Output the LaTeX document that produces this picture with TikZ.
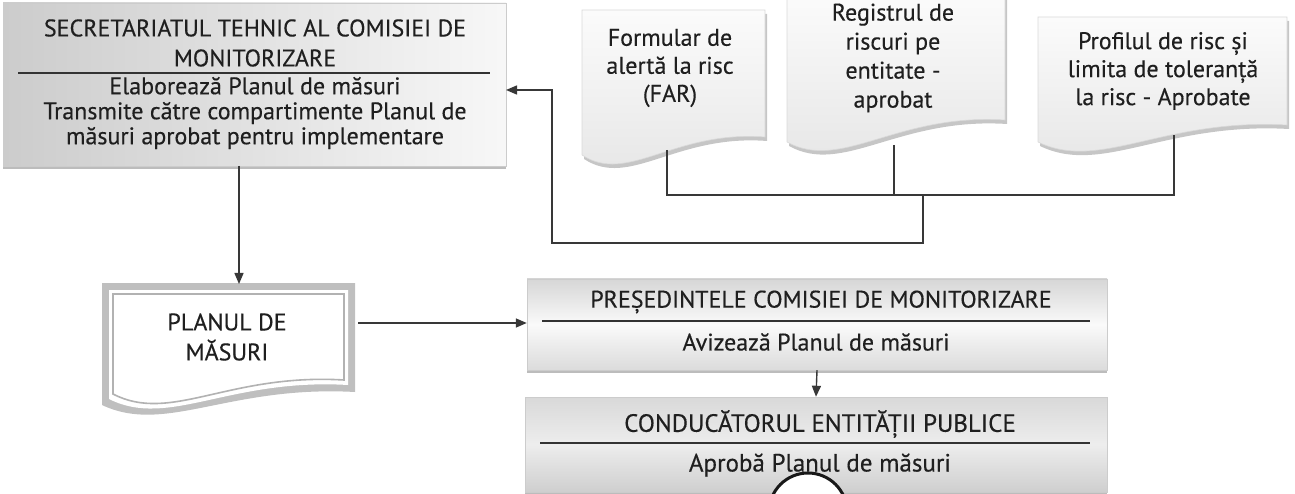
\documentclass[tikz,border=0pt]{standalone}
\usepackage{fontspec}
\setmainfont{PT Sans}[BoldFont=PT Sans, BoldFeatures={FakeBold=0.35}]
\usetikzlibrary{arrows.meta,shadows}
\newcommand\mydocpath[5]{(#1,#3) -- (#2,#3) -- (#2,#5) .. controls ({#1+0.5*(#2-#1)},{#5-7}) and ({#1+0.25*(#2-#1)},{#4+30}) .. (#1,#4) -- cycle}
\begin{document}
\begin{tikzpicture}[x=1pt,y=-1pt,
  conn/.style={draw=black!78, line width=1.4pt},
  arr/.style={conn, -{Triangle[length=11pt,width=9pt]}},
  txt/.style={font=\fontsize{24}{28}\selectfont\bfseries, align=center, text=black!88, inner sep=0pt},
  divider/.style={draw=black!80, line width=1.3pt},
  boxshadow/.style={drop shadow={opacity=0.75, shadow xshift=0pt, shadow yshift=-3pt, fill=gray!70}},
  docfill/.style={top color=gray!3, bottom color=gray!20, draw=gray!30, line width=0.6pt},
  docshadow/.style={fill=gray!45, shift={(2,4)}}
]
\useasboundingbox (0,0) rectangle (1295,494);

% ---- boxes ----
\node[boxshadow, left color=gray!40, right color=gray!6, draw=gray!40, minimum width=503pt, minimum height=163pt, inner sep=0pt] (secbox) at (254.5,84.5) {};
\node[boxshadow, top color=gray!32, bottom color=gray!28, middle color=gray!4, draw=gray!40, minimum width=580pt, minimum height=91pt, inner sep=0pt] (pres) at (817,324.5) {};
\node[boxshadow, top color=gray!30, bottom color=gray!38, middle color=gray!14, draw=gray!40, minimum width=582pt, minimum height=95pt, inner sep=0pt] (cond) at (816,444.5) {};

% ---- document shapes ----
\fill[docshadow] \mydocpath{582}{765}{10}{155}{137};
\path[docfill] \mydocpath{582}{765}{10}{155}{137};
\fill[docshadow] \mydocpath{787}{1005}{-6}{142}{120};
\path[docfill] \mydocpath{787}{1005}{-6}{142}{120};
\fill[docshadow] \mydocpath{1038}{1287}{17}{142}{125};
\path[docfill] \mydocpath{1038}{1287}{17}{142}{125};

% ---- plan document ----
\fill[gray!50] \mydocpath{102}{355}{283}{405}{392};
\fill[white] \mydocpath{109}{348}{290}{399}{385};
\path[draw=gray!60, line width=1.6pt, fill=white] \mydocpath{113}{344}{294}{394}{380};

% ---- texts ----
\node[txt, font=\fontsize{24}{30}\selectfont\bfseries] (sectitle) at (255,43) {SECRETARIATUL TEHNIC AL COMISIEI DE\\MONITORIZARE};
\draw[divider] (18,73) -- (490,73);
\node[txt, font=\fontsize{24}{25}\selectfont\bfseries] (secbody) at (255,113) {Elaborează Planul de măsuri\\Transmite către compartimente Planul de\\măsuri aprobat pentru implementare};

\node[txt] (far) at (670,68) {Formular de\\alertă la risc\\(FAR)};
\node[txt, font=\fontsize{24}{29}\selectfont\bfseries] (reg) at (893,58) {Registrul de\\riscuri pe\\entitate -\\aprobat};
\node[txt] (prof) at (1163,71) {Profilul de risc și\\limita de toleranță\\la risc - Aprobate};

\node[txt, font=\fontsize{24}{30}\selectfont\bfseries] (plan) at (227,337) {PLANUL DE\\MĂSURI};

\node[txt] (prestitle) at (821,302) {PREȘEDINTELE COMISIEI DE MONITORIZARE};
\draw[divider] (542,321) -- (1090,321);
\node[txt] (presbody) at (816,342) {Avizează Planul de măsuri};

\node[txt, font=\fontsize{25}{28}\selectfont\bfseries] (condtitle) at (820,424) {CONDUCĂTORUL ENTITĂȚII PUBLICE};
\draw[divider] (540,443) -- (1090,443);
\node[txt, font=\fontsize{25}{28}\selectfont\bfseries] (condbody) at (820,465) {Aprobă Planul de măsuri};

% ---- connector points ----
\coordinate (farb) at (667,150);
\coordinate (regb) at (894,145);
\coordinate (profb) at (1174,135);
\coordinate (hl) at (667,195);
\coordinate (hr) at (1174,195);
\coordinate (j1) at (923,195);
\coordinate (j2) at (923,243);
\coordinate (k) at (552,243);
\coordinate (tip) at (506,90);
\coordinate (sb) at (239,166);
\coordinate (pt) at (239,284);
\coordinate (planr) at (358,323);

% ---- connectors ----
\draw[conn] (farb) -- (hl) -- (hr) -- (profb);
\draw[conn] (regb) -- (regb |- hl);
\draw[arr] (j1) -- (j2) -- (k) |- (tip);
\draw[arr] (sb) -- (pt);
\draw[arr] (planr) -- (planr -| pres.west);
\draw[arr] (pres.south) -- (cond.north);

% ---- ring at the bottom ----
\begin{scope}
\clip (0,0) rectangle (1295,494);
\node[circle, draw=black!90, line width=3pt, fill=white, minimum size=78pt, inner sep=0pt] (ring) at (808,512) {};
\end{scope}
\end{tikzpicture}
\end{document}
